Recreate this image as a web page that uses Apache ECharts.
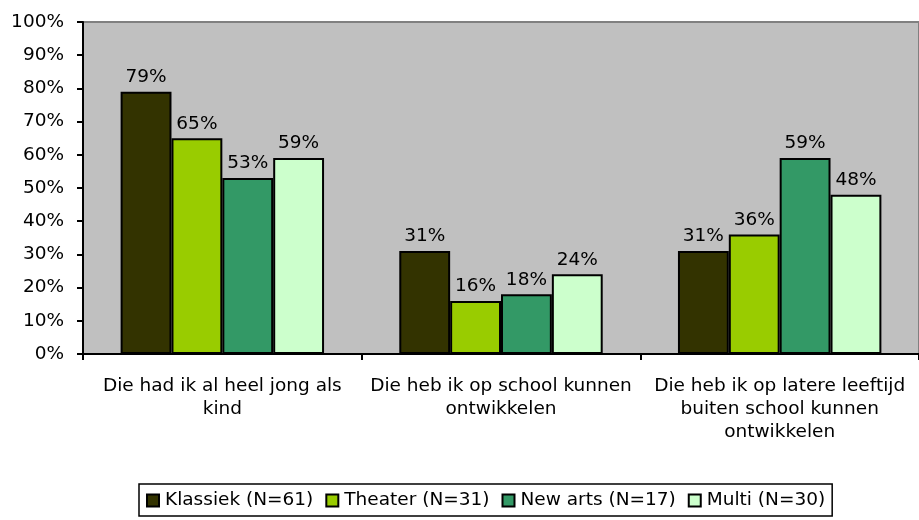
<!DOCTYPE html>
<html>
<head>
<meta charset="utf-8">
<script src="https://cdn.jsdelivr.net/npm/echarts@6/dist/echarts.min.js"></script>
<style>
  html, body { margin: 0; padding: 0; background: #fff; }
  #chart { width: 919px; height: 520px; }
</style>
</head>
<body>
<div id="chart"></div>
<script>
// categories and values (percent)
var categories = [
  "Die had ik al heel jong als\nkind",
  "Die heb ik op school kunnen\nontwikkelen",
  "Die heb ik op latere leeftijd\nbuiten school kunnen\nontwikkelen"
];
var seriesNames = ["Klassiek (N=61)", "Theater (N=31)", "New arts (N=17)", "Multi (N=30)"];
var klassiek = [79, 31, 31];
var theater = [65, 16, 36];
var newArts = [53, 18, 59];
var multi = [59, 24, 48];
var colors = ["#333300", "#99cc00", "#339966", "#ccffcc"];

var font = "DejaVu Sans";
var fs = 18.5;
var chart = echarts.init(document.getElementById("chart"));

function bar(name, data, color) {
  return {
    name: name,
    type: "bar",
    data: data,
    barGap: "0%",
    barCategoryGap: "27%",
    itemStyle: { color: color, borderColor: "#000", borderWidth: 2 },
    label: {
      show: true,
      position: "top",
      distance: 5,
      formatter: "{c}%",
      color: "#000",
      fontFamily: font,
      fontSize: fs
    }
  };
}

chart.setOption({
  animation: false,
  textStyle: { fontFamily: font },
  grid: {
    left: 83, top: 22, right: 0, bottom: 166,
    show: true,
    backgroundColor: "#c0c0c0",
    borderColor: "#808080",
    borderWidth: 2
  },
  legend: {
    left: 139, top: 484,
    itemWidth: 12, itemHeight: 12, itemGap: 12,
    padding: [7, 7, 6, 7],
    borderColor: "#000", borderWidth: 1.5,
    data: seriesNames.map(function (n) {
      return { name: n, icon: "rect", itemStyle: { borderColor: "#000", borderWidth: 2 } };
    }),
    textStyle: { color: "#000", fontSize: fs, fontFamily: font, padding: [0, 0, 0, 1] }
  },
  xAxis: {
    type: "category",
    data: categories,
    axisLine: { lineStyle: { color: "#000", width: 2 } },
    axisTick: { show: true, interval: 0, length: 6, lineStyle: { color: "#000", width: 2 } },
    axisLabel: { interval: 0, color: "#000", fontSize: fs, fontFamily: font, lineHeight: 23, margin: 21 }
  },
  yAxis: {
    type: "value",
    min: 0, max: 100, interval: 10,
    axisLine: { show: true, lineStyle: { color: "#000", width: 2 } },
    axisTick: { show: true, length: 6, lineStyle: { color: "#000", width: 2 } },
    splitLine: { show: false },
    axisLabel: { color: "#000", fontSize: fs, fontFamily: font, formatter: "{value}%", margin: 19 }
  },
  series: [
    bar(seriesNames[0], klassiek, colors[0]),
    bar(seriesNames[1], theater, colors[1]),
    bar(seriesNames[2], newArts, colors[2]),
    bar(seriesNames[3], multi, colors[3])
  ]
});
</script>
</body>
</html>
